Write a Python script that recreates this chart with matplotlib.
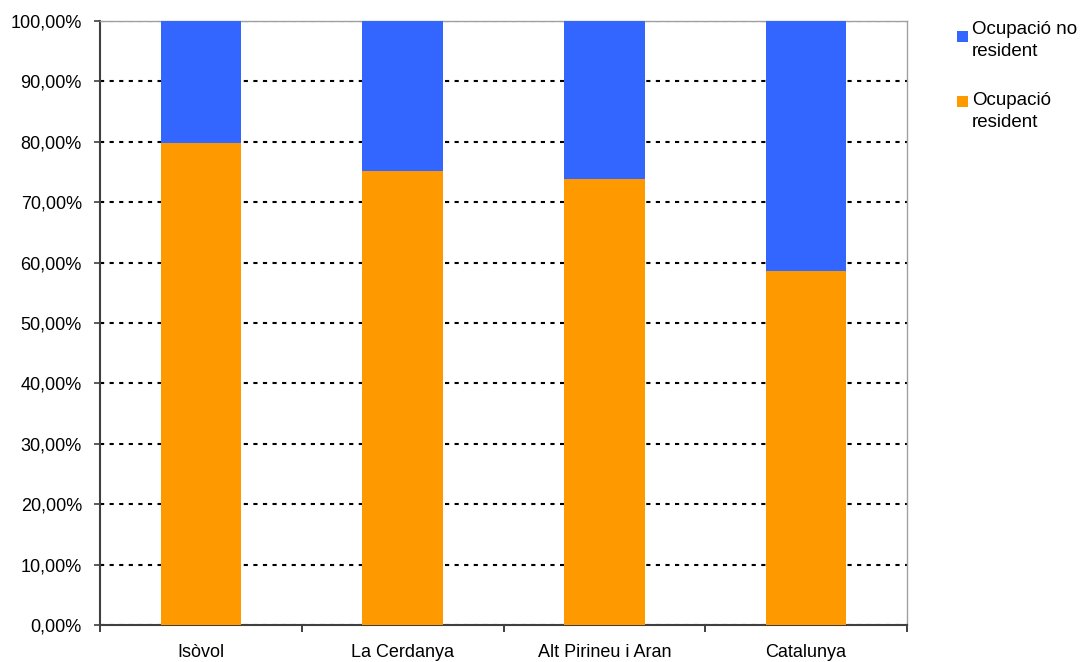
import matplotlib
matplotlib.use("Agg")
import matplotlib.pyplot as plt
from matplotlib.patches import Rectangle
import numpy as np

plt.rcParams['font.family'] = ['Liberation Sans', 'DejaVu Sans']

categories = ["Isòvol", "La Cerdanya", "Alt Pirineu i Aran", "Catalunya"]
resident = [79.8, 75.15, 73.9, 58.6]
no_resident = [100 - v for v in resident]
series_labels = ["Ocupació no\nresident", "Ocupació\nresident"]
yticks = list(range(0, 101, 10))
ytick_labels = [f"{v},00%" for v in yticks]

c_blue = "#3366FF"
c_orange = "#FF9900"

W, H = 1081, 662
fig = plt.figure(figsize=(W / 100, H / 100), dpi=100)
ax = fig.add_axes([100 / W, 1 - 625 / H, (907 - 100) / W, (625 - 21) / H])

x = np.arange(len(categories))
bw = 0.40
ax.bar(x, resident, width=bw, color=c_orange, zorder=3)
ax.bar(x, no_resident, width=bw, bottom=resident, color=c_blue, zorder=3)

ax.set_xlim(-0.5, len(categories) - 0.5)
ax.set_ylim(0, 100)
ax.set_yticks(yticks)
ax.set_yticklabels(ytick_labels)
ax.yaxis.grid(True, color="black", linestyle=(0, (2, 2.6)), linewidth=1.5, zorder=1)

ax.set_xticks(x)
ax.set_xticklabels(categories)
ax.set_xticks(np.arange(-0.5, len(categories)), minor=True)
ax.tick_params(axis="x", which="major", length=0, pad=13.5, labelsize=13)
ax.tick_params(axis="x", which="minor", length=5, width=1.2, color="#202020", direction="out")
ax.tick_params(axis="y", length=4, width=1.2, color="#404040", pad=9, labelsize=13)

for s in ["left", "bottom"]:
    ax.spines[s].set_color("#404040")
    ax.spines[s].set_linewidth(1.5)
for s in ["top", "right"]:
    ax.spines[s].set_color("#a0a0a0")
    ax.spines[s].set_linewidth(1.0)

# legend drawn manually
leg_colors = [c_blue, c_orange]
text_tops = [21, 92]      # pixel tops of legend text blocks
sq_tops = [31, 96]        # pixel tops of legend squares
sq = 11
for col, lab, tt, st in zip(leg_colors, series_labels, text_tops, sq_tops):
    fig.add_artist(Rectangle((957 / W, 1 - (st + sq) / H), sq / W, sq / H,
                             transform=fig.transFigure, facecolor=col, edgecolor="none"))
    fig.text(972 / W, 1 - tt / H, lab, fontsize=13.5, va="top", ha="left",
             linespacing=1.35, color="black")

fig.savefig("out.png", dpi=100)
